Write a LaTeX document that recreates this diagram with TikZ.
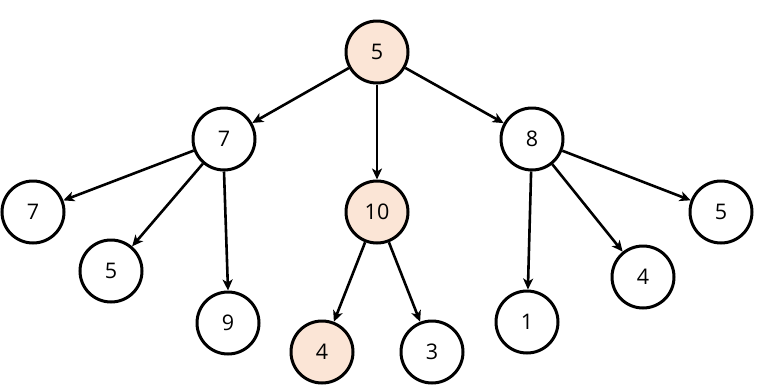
\documentclass[tikz,border=0pt]{standalone}
\usepackage{fontspec}
\setmainfont{Open Sans}
\usetikzlibrary{arrows.meta}
\definecolor{peach}{HTML}{FBE5D6}
\tikzset{
  vtx/.style={circle, draw=black, line width=3pt, minimum size=62pt, inner sep=0pt, fill=white, font=\fontsize{21.5}{25}\selectfont},
  hot/.style={vtx, fill=peach},
  edge/.style={line width=2.6pt, -{Stealth[length=11pt,width=10pt,inset=3pt]}}
}
\begin{document}
\begin{tikzpicture}[x=1pt,y=-1pt]
\useasboundingbox (0,0) rectangle (763,389);
\node[hot] (r) at (377,52) {5};
\node[vtx] (a) at (224,139) {7};
\node[hot] (b) at (377,212) {10};
\node[vtx] (c) at (532,139) {8};
\node[vtx] (a1) at (33,212) {7};
\node[vtx] (a2) at (111,271) {5};
\node[vtx] (a3) at (228,323) {9};
\node[hot] (b1) at (322,352) {4};
\node[vtx] (b2) at (432,352) {3};
\node[vtx] (c1) at (527,322) {1};
\node[vtx] (c2) at (643,277) {4};
\node[vtx] (c3) at (721,212) {5};
\draw[edge] (r) -- (a);
\draw[edge] (r) -- (b);
\draw[edge] (r) -- (c);
\draw[edge] (a) -- (a1);
\draw[edge] (a) -- (a2);
\draw[edge] (a.south) -- (a3.north);
\draw[edge] (b) -- (b1);
\draw[edge] (b) -- (b2);
\draw[edge] (c) -- (c1);
\draw[edge] (c) -- (c2);
\draw[edge] (c) -- (c3);
\end{tikzpicture}
\end{document}
